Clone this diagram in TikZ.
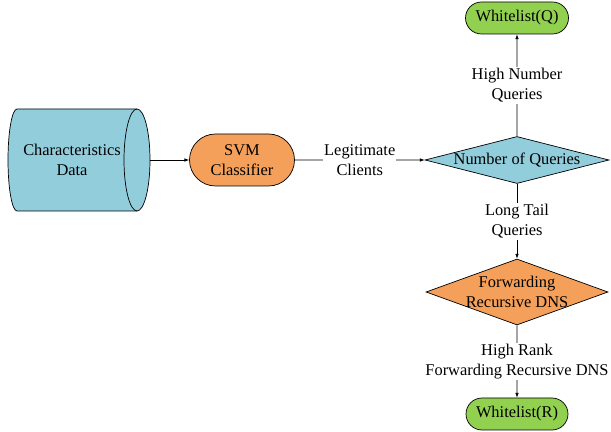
\documentclass[tikz,border=0pt]{standalone}
\usepackage{fontspec}
\setmainfont{LiberationSerif}[Extension=.ttf, UprightFont=*-Regular]
\usetikzlibrary{shapes.misc,shapes.geometric,arrows.meta,positioning}
\definecolor{dblue}{RGB}{146,205,220}
\definecolor{dorange}{RGB}{245,160,90}
\definecolor{dgreen}{RGB}{146,208,80}
\newcommand*{\px}{0.03cm}
\tikzset{%
  every node/.style={font=\rmfamily\fontsize{14}{17.5}\selectfont, align=center},
  terminal/.style={draw, rounded rectangle, inner sep=0pt},% start / end boxes
  decision/.style={draw, diamond, inner sep=0pt},% decision boxes
  flow/.style={-{Latex[length=4pt,width=3pt]}},
  edgelabel/.style={fill=white, inner sep=1pt}% label on a connector
}

\begin{document}
\begin{tikzpicture}[x=\px, y=-\px, line width=0.6pt]
\useasboundingbox (0,0) rectangle (611,432);

% stored data
\draw[fill=dblue] (17,109) -- (137,109) arc(-90:90:13 and 51) -- (17,211)
  arc(90:270:9 and 51) -- cycle;
\draw (137,109) arc(270:90:13 and 51);
\node (data) at (72,160) {Characteristics\\Data};
\coordinate (datarim) at (150,160);

\node[terminal, fill=dorange, minimum width=105*\px, minimum height=52*\px] (svm) at (242,160) {SVM\\Classifier};
\node[decision, fill=dblue, minimum width=184*\px, minimum height=47*\px,
  label=center:Number of Queries] (numq) at (517,160) {};
\node[terminal, fill=dgreen, minimum width=103*\px, minimum height=32*\px] (wq) at (517,18) {Whitelist(Q)};
\node[decision, fill=dorange, minimum width=182*\px, minimum height=66*\px,
  label={center:Forwarding\\Recursive DNS}] (fwd) at (517,292) {};
\node[terminal, fill=dgreen, minimum width=102*\px, minimum height=32*\px] (wr) at (517,414) {Whitelist(R)};

\draw[flow] (datarim) -- (svm);
\draw[flow] (svm) -- node[edgelabel] {Legitimate\\Clients} (numq);
\draw[flow] (numq) -- node[edgelabel] {High Number\\Queries} (wq);
\draw[flow] (numq) -- node[edgelabel] {Long Tail\\Queries} (fwd);
\draw[flow] (fwd) -- node[edgelabel] {High Rank\\Forwarding Recursive DNS} (wr);

\end{tikzpicture}
\end{document}
